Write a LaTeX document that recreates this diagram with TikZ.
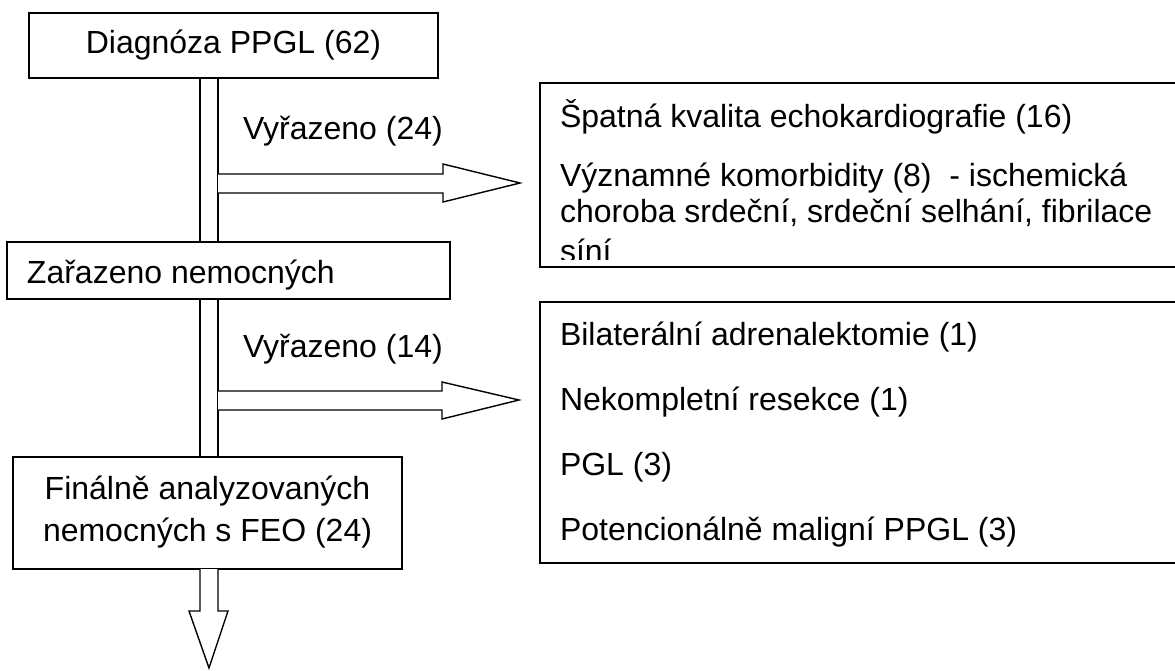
\documentclass[tikz,border=0pt]{standalone}
\usepackage{fontspec}
\setmainfont{Liberation Sans}
\usetikzlibrary{backgrounds}
\begin{document}
\begin{tikzpicture}[x=1pt,y=-1pt,
  box/.style={draw=black,line width=1.4pt,fill=white,inner sep=0pt,outer sep=0pt,anchor=north west},
  openbox/.style={fill=white,inner sep=0pt,outer sep=0pt,anchor=north west},
  edge/.style={draw=black,line width=1.4pt,line join=miter},
  txt/.style={inner sep=0pt,outer sep=0pt,font=\fontsize{32}{37}\selectfont},
  blockarrow/.style={draw=black,line width=1.4pt,fill=white,line join=miter}
]
\useasboundingbox (0,0) rectangle (1175,670);
% boxes
\node[box,minimum width=409pt,minimum height=65pt] (b1) at (29,13) {};
\node[box,minimum width=443pt,minimum height=57pt] (b2) at (7,242) {};
\node[box,minimum width=389pt,minimum height=112pt] (b3) at (13,457) {};
\node[openbox,minimum width=635pt,minimum height=184pt] (r1) at (540,83) {};
\node[openbox,minimum width=635pt,minimum height=261pt] (r2) at (540,302) {};
\draw[edge] (r1.north east) -- (r1.north west) -- (r1.south west) -- (r1.south east);
\draw[edge] (r2.north east) -- (r2.north west) -- (r2.south west) -- (r2.south east);
% texts
\node[txt,anchor=base] (t1) at (b1.center |- 0,53) {Diagnóza PPGL (62)};
\node[txt,anchor=base west] (t2) at (27,283) {Zařazeno nemocných};
\node[txt,anchor=base] (t3a) at (b3.center |- 0,499) {Finálně analyzovaných};
\node[txt,anchor=base] (t3b) at (b3.center |- 0,541) {nemocných s FEO (24)};
\node[txt,anchor=base west] (l1) at (243,139) {Vyřazeno (24)};
\node[txt,anchor=base west] (l2) at (243,357) {Vyřazeno (14)};
\node[txt,anchor=base west] (r1a) at (560,127) {Špatná kvalita echokardiografie (16)};
\node[txt,anchor=base west] (r1b) at (560,186) {Významné komorbidity (8) \ - ischemická};
\node[txt,anchor=base west] (r1c) at (560,222) {choroba srdeční, srdeční selhání, fibrilace};
\begin{scope}
  \clip (541,235) rectangle (1170,259);
  \node[txt,anchor=base west] (r1d) at (560,262) {síní};
\end{scope}
\node[txt,anchor=base west] (r2a) at (560,345) {Bilaterální adrenalektomie (1)};
\node[txt,anchor=base west] (r2b) at (560,410) {Nekompletní resekce (1)};
\node[txt,anchor=base west] (r2c) at (560,475) {PGL (3)};
\node[txt,anchor=base west] (r2d) at (560,540) {Potencionálně maligní PPGL (3)};
% block arrows
\coordinate (sL) at (200,0);
\coordinate (sR) at (218,0);
\coordinate (tip1) at (520,183);
\coordinate (tip2) at (519,400);
\coordinate (tip3) at (209,668);
\begin{scope}[on background layer]
  \draw[blockarrow,fill=none] (b1.south -| sL) -- (b3.south -| sL);
  \draw[blockarrow,fill=none] (b1.south -| sR) -- (b3.south -| sR);
\end{scope}
\draw[blockarrow] (sR |- 0,174) -- (443,174) -- (443,164) -- (tip1) -- (443,202) -- (443,193) -- (sR |- 0,193);
\draw[blockarrow] (sR |- 0,391) -- (442,391) -- (442,382) -- (tip2) -- (442,419) -- (442,410) -- (sR |- 0,410);
\draw[blockarrow] (b3.south -| sL) -- (sL |- 0,611) -- (189,611) -- (tip3) -- (228,611) -- (sR |- 0,611) -- (b3.south -| sR);
\end{tikzpicture}
\end{document}
